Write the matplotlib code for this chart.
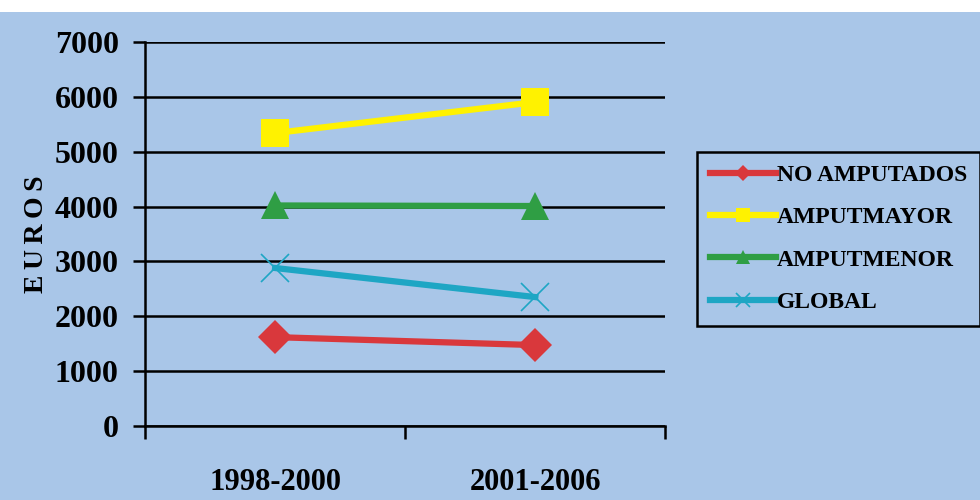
import matplotlib
matplotlib.use('Agg')

import matplotlib.pyplot as plt
import matplotlib.patches as mpatches

periods = ['1998-2000', '2001-2006']
no_amputados = [1620, 1475]
amput_mayor = [5340, 5905]
amput_menor = [4020, 4010]
global_cost = [2880, 2350]

names = ['NO AMPUTADOS', 'AMPUTMAYOR', 'AMPUTMENOR', 'GLOBAL']
colors = ['#d9383c', '#fff200', '#2f9e44', '#1ea6c4']
markers = ['D', 's', '^', 'x']
msizes = [17, 20, 20, 20]
yticks = [0, 1000, 2000, 3000, 4000, 5000, 6000, 7000]

bg = '#a9c6e8'
plt.rcParams['font.family'] = ['Liberation Serif', 'DejaVu Serif']
plt.rcParams['font.weight'] = 'bold'

fig = plt.figure(figsize=(9.8, 5), dpi=100, facecolor=bg)
# thin white strip along the top edge of the page
fig.patches.append(mpatches.Rectangle((0, 0.976), 1, 0.024, transform=fig.transFigure,
                                      facecolor='white', edgecolor='none', zorder=0))

ax = fig.add_axes([0.148, 0.148, 0.531, 0.768])
ax.set_facecolor(bg)

x = list(range(len(periods)))
series = [no_amputados, amput_mayor, amput_menor, global_cost]
for vals, name, c, m, ms in zip(series, names, colors, markers, msizes):
    ax.plot(x, vals, color=c, lw=4.5, marker=m, markersize=ms,
            markeredgewidth=1.2 if m == 'x' else 0, label=name, zorder=3)

ax.set_xlim(-0.5, 1.5)
ax.set_ylim(0, 7000)
ax.set_yticks(yticks)
ax.set_yticklabels([str(v) for v in yticks], fontsize=23, fontweight='bold')
ax.yaxis.grid(True, color='black', lw=1.8)
ax.set_axisbelow(True)

# category ticks sit between the groups, labels in the middle
ax.set_xticks([-0.5, 0.5, 1.5])
ax.set_xticklabels([])
ax.set_xticks(x, minor=True)
ax.set_xticklabels(periods, minor=True, fontsize=22, fontweight='bold')
ax.tick_params(axis='x', which='minor', length=0, pad=30)
ax.tick_params(axis='x', which='major', length=9, width=1.8, direction='out')
ax.tick_params(axis='y', length=9, width=1.8, direction='out', pad=10)

for s in ['top', 'right']:
    ax.spines[s].set_visible(False)
ax.spines['left'].set_linewidth(1.8)
ax.spines['bottom'].set_linewidth(1.8)

ax.set_ylabel('E\u2009U\u2009R\u2009O\u2009S', fontsize=20, fontweight='bold', labelpad=4)

leg = ax.legend(loc='upper left', bbox_to_anchor=(0.711, 0.697), bbox_transform=fig.transFigure,
                handlelength=2.8, handletextpad=0.05, labelspacing=0.88,
                borderpad=0.55, borderaxespad=0, fancybox=False, markerscale=0.5,
                prop={'family': ['Liberation Serif'], 'weight': 'bold', 'size': 17})
leg.get_frame().set_facecolor(bg)
leg.get_frame().set_edgecolor('black')
leg.get_frame().set_linewidth(1.8)
leg.get_frame().set_alpha(1)

fig.savefig('out.png', dpi=100, facecolor=bg)
